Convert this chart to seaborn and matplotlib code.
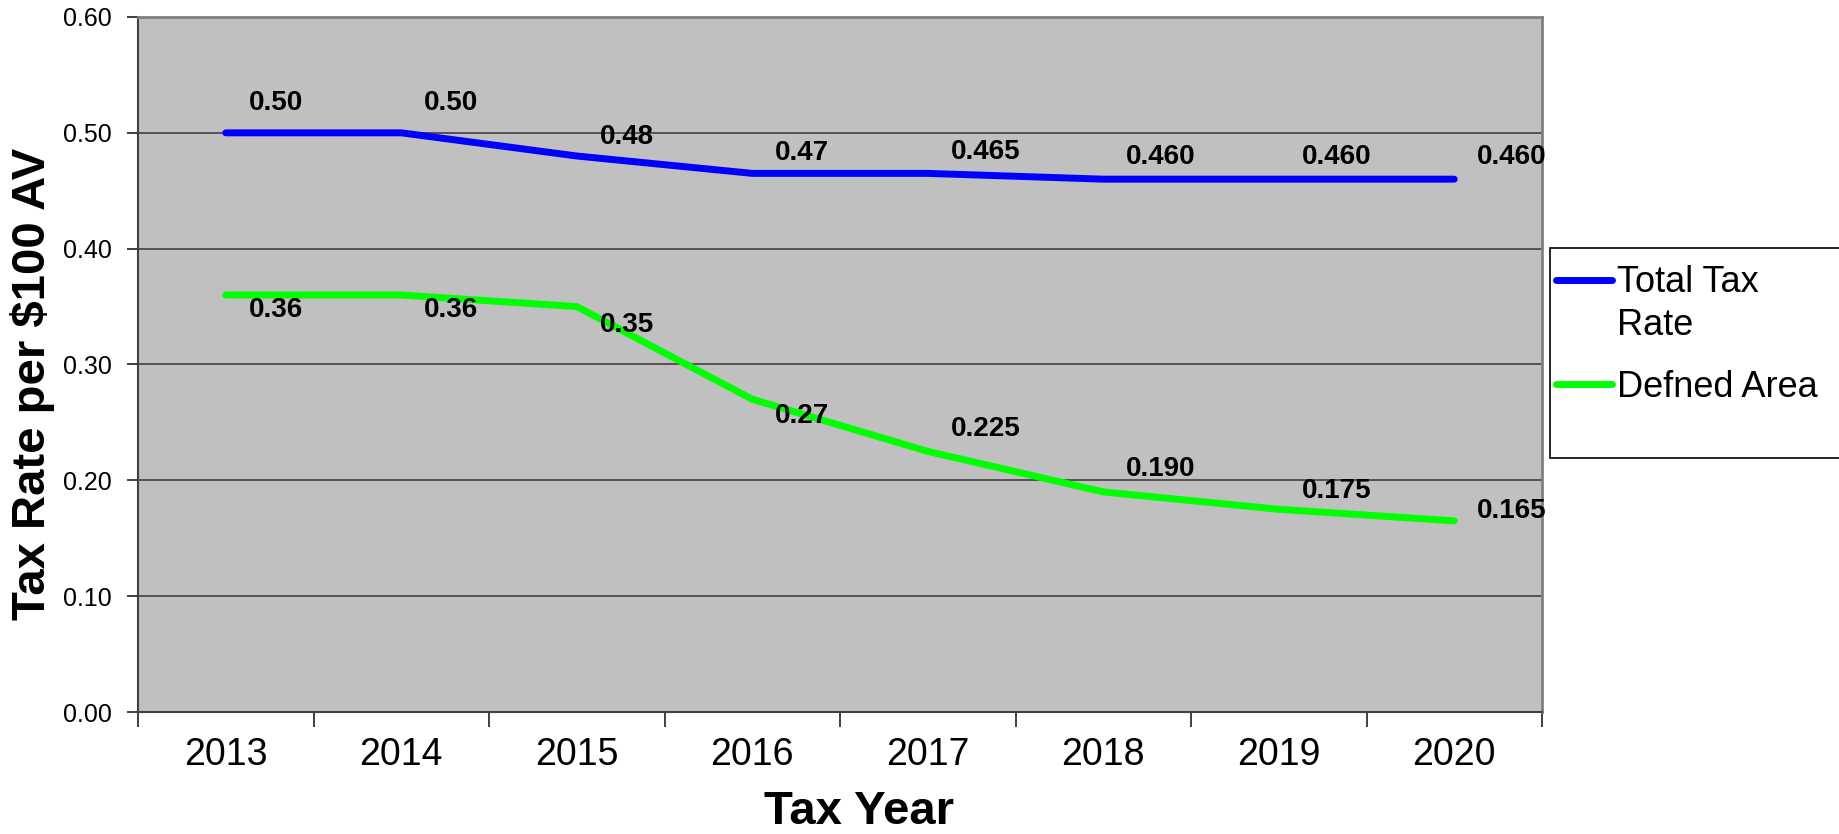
import matplotlib
matplotlib.use('Agg')
import matplotlib.pyplot as plt
import pandas as pd
import seaborn as sns
from matplotlib.patches import Rectangle
from matplotlib.lines import Line2D

# dados
anos = [2013, 2014, 2015, 2016, 2017, 2018, 2019, 2020]
total_tax = [0.50, 0.50, 0.48, 0.465, 0.465, 0.46, 0.46, 0.46]
defned_area = [0.36, 0.36, 0.35, 0.27, 0.225, 0.19, 0.175, 0.165]
rotulos_total = ['0.50', '0.50', '0.48', '0.47', '0.465', '0.460', '0.460', '0.460']
rotulos_defned = ['0.36', '0.36', '0.35', '0.27', '0.225', '0.190', '0.175', '0.165']
series = ['Total Tax\nRate', 'Defned Area']
cores = ['#0000FF', '#00FF00']

# deslocamento vertical dos rotulos (pixels)
desloc_total = [30, 30, 19, 20, 21, 22, 22, 22]
desloc_defned = [-15, -15, -18, -17, 22, 23, 18, 10]

df = pd.DataFrame({
    'ano': anos * 2,
    'taxa': total_tax + defned_area,
    'serie': [series[0]] * len(anos) + [series[1]] * len(anos),
})

sns.set_style('white', {'axes.facecolor': '#C0C0C0', 'text.color': 'black',
                        'xtick.color': 'black', 'ytick.color': 'black',
                        'axes.labelcolor': 'black'})
plt.rcParams['font.family'] = ['Liberation Sans', 'DejaVu Sans']

W, H = 1839, 834
fig = plt.figure(figsize=(W / 100, H / 100), dpi=100)
ax = fig.add_axes([138 / W, 1 - 712 / H, 1404 / W, 695 / H])

sns.lineplot(data=df, x='ano', y='taxa', hue='serie', palette=cores,
             linewidth=5, ax=ax, legend=False, solid_capstyle='round')

# rotulos dos dados
for x, y, t, d in zip(anos, total_tax, rotulos_total, desloc_total):
    ax.annotate(t, (x, y), xytext=(23, d), textcoords='offset pixels',
                ha='left', va='center', fontsize=20, fontweight='bold', color='black')
for x, y, t, d in zip(anos, defned_area, rotulos_defned, desloc_defned):
    ax.annotate(t, (x, y), xytext=(23, d), textcoords='offset pixels',
                ha='left', va='center', fontsize=20, fontweight='bold', color='black')

ax.set_xlim(anos[0] - 0.5, anos[-1] + 0.5)
ax.set_ylim(0, 0.6)
ax.set_yticks([0.0, 0.1, 0.2, 0.3, 0.4, 0.5, 0.6])
ax.set_yticklabels([f'{v:.2f}' for v in ax.get_yticks()], fontsize=18)
ax.yaxis.grid(True, color='#404040', linewidth=1.2)
ax.set_axisbelow(True)

# ticks nas fronteiras, rotulos no centro
ax.set_xticks([a - 0.5 for a in anos] + [anos[-1] + 0.5])
ax.set_xticklabels([])
ax.set_xticks(anos, minor=True)
ax.set_xticklabels([str(a) for a in anos], minor=True, fontsize=27)
ax.tick_params(axis='x', which='major', length=11, width=1.2, color='#202020',
               direction='out', bottom=True)
ax.tick_params(axis='x', which='minor', length=0, pad=18)
ax.tick_params(axis='y', length=8, width=1.2, color='#202020', left=True, pad=11)

for lado in ['left', 'bottom']:
    ax.spines[lado].set_color('#404040')
    ax.spines[lado].set_linewidth(1.5)
for lado in ['top', 'right']:
    ax.spines[lado].set_visible(True)
    ax.spines[lado].set_color('#808080')
    ax.spines[lado].set_linewidth(2)

ax.set_xlabel('Tax Year', fontsize=34, fontweight='bold', va='center')
ax.set_ylabel('Tax Rate per $100 AV', fontsize=34, fontweight='bold', va='center')
ax.xaxis.set_label_coords((859 - 138) / 1404, (712 - 812) / 695)
ax.yaxis.set_label_coords((33 - 138) / 1404, (712 - 384) / 695)

# legenda (caixa estilo Excel)
fig.add_artist(Rectangle((1550 / W, 1 - 458 / H), 320 / W, 210 / H,
                         transform=fig.transFigure, facecolor='white',
                         edgecolor='black', linewidth=1.2))
ys_handle = [280, 384]
ys_base = [[292, 335], [397]]
for serie, cor, yh, bases in zip(series, cores, ys_handle, ys_base):
    fig.add_artist(Line2D([1556 / W, 1612 / W], [1 - yh / H, 1 - yh / H],
                          transform=fig.transFigure, color=cor, linewidth=5,
                          solid_capstyle='round'))
    for linha, yb in zip(serie.split('\n'), bases):
        fig.text(1617 / W, 1 - yb / H, linha, fontsize=26, color='black',
                 ha='left', va='baseline')

plt.savefig('out.png', dpi=100)
plt.close()
